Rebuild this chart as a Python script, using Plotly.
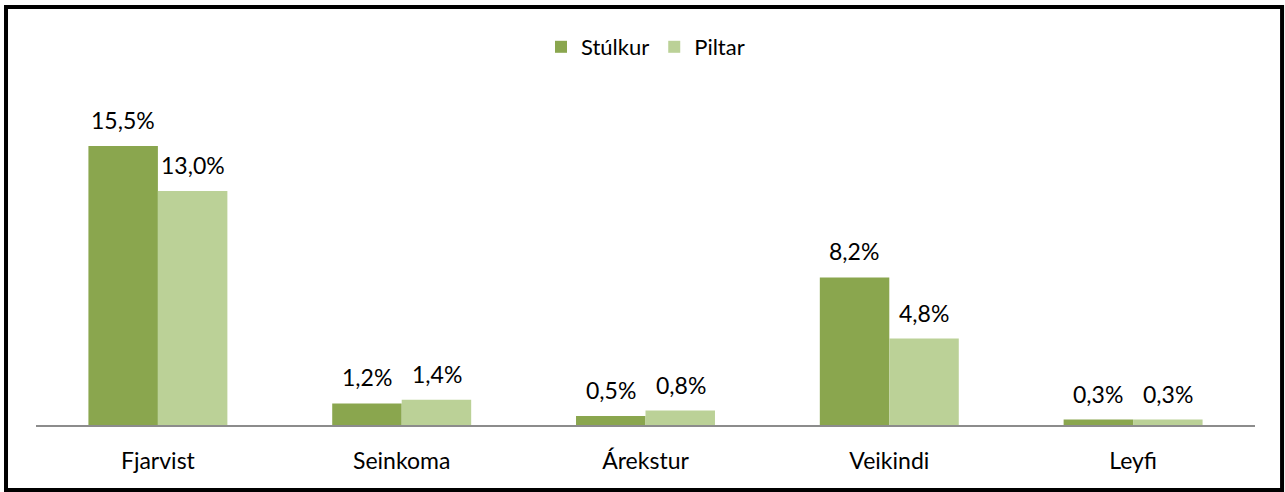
import plotly.graph_objects as go

categories = ["Fjarvist", "Seinkoma", "Árekstur", "Veikindi", "Leyfi"]
stulkur = [15.5, 1.2, 0.5, 8.2, 0.3]
piltar = [13.0, 1.4, 0.8, 4.8, 0.3]

dark_green = "rgb(138,166,78)"
light_green = "rgb(187,209,151)"
font_family = "Lato, 'Open Sans', sans-serif"


def pct(v):
    return f"{v:.1f}".replace(".", ",") + "%"


fig = go.Figure()
fig.add_trace(go.Bar(name="Stúlkur", x=categories, y=stulkur, marker_color=dark_green,
                     marker_line_width=0))
fig.add_trace(go.Bar(name="Piltar", x=categories, y=piltar, marker_color=light_green,
                     marker_line_width=0))

# value labels above each bar
annotations = []
for series, shift in ((stulkur, -35), (piltar, 35)):
    for cat, v in zip(categories, series):
        annotations.append(dict(
            x=cat, y=v, xref="x", yref="y", text=pct(v), showarrow=False,
            xshift=shift, yshift=26, yanchor="middle",
            font=dict(size=23, color="#000000", family=font_family),
        ))

fig.update_layout(
    width=1285,
    height=492,
    barmode="group",
    bargap=0.43,
    bargroupgap=0,
    paper_bgcolor="white",
    plot_bgcolor="white",
    margin=dict(l=36, r=30, t=65, b=67),
    font=dict(family=font_family, size=22, color="#000000"),
    xaxis=dict(
        showgrid=False,
        showline=True,
        linecolor="#8c8c8c",
        linewidth=1.5,
        ticks="",
        ticklabelstandoff=15,
        tickfont=dict(size=23, color="#000000"),
    ),
    yaxis=dict(
        range=[0, 20],
        visible=False,
        showgrid=False,
        zeroline=False,
    ),
    legend=dict(
        orientation="h",
        x=0.5,
        xanchor="center",
        y=1.05,
        yanchor="middle",
        font=dict(size=22, color="#000000"),
        itemwidth=30,
    ),
    annotations=annotations,
    shapes=[dict(
        type="rect", xref="paper", yref="paper",
        x0=-0.0246, x1=1.0222, y0=-0.1806, y1=1.1611,
        line=dict(color="#000000", width=4),
    )],
)

# drop the default page margin so the figure sits at the window's corner
fig.write_html("out.html", config={"displayModeBar": False},
               post_script="document.body.style.margin='0';")
